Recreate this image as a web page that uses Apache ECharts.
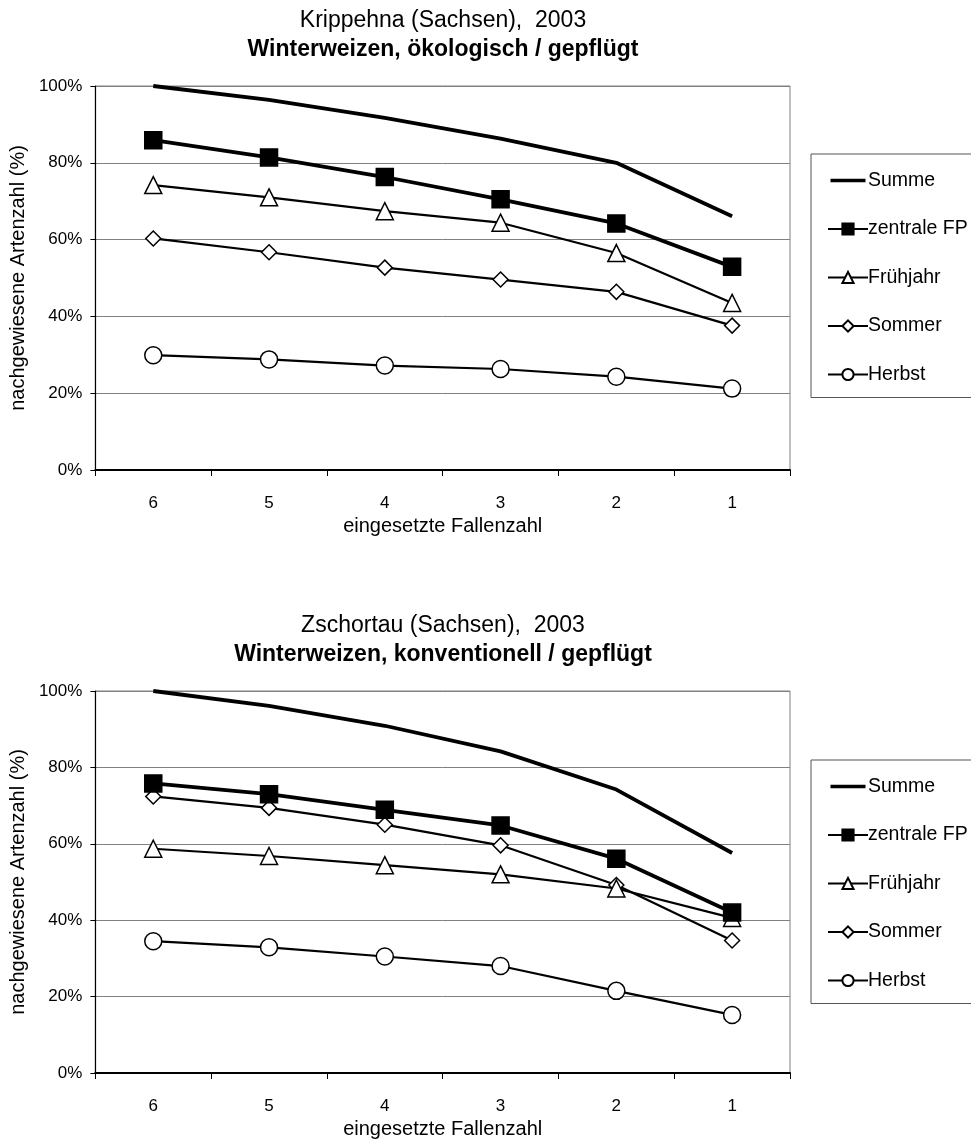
<!DOCTYPE html>
<html><head><meta charset="utf-8">
<script src="https://cdn.jsdelivr.net/npm/echarts@6/dist/echarts.min.js"></script>
<style>html,body{margin:0;padding:0;background:#fff}#c{width:971px;height:1140px}</style>
</head><body><div id="c"></div>
<script>
const categories = ['6','5','4','3','2','1'];
const seriesNames = ['Summe','zentrale FP','Frühjahr','Sommer','Herbst'];
const yTicks = [0,20,40,60,80,100];
// Chart 1: Krippehna
const k_summe    = [100, 96.4, 91.7, 86.3, 80.0, 66.1];
const k_zentrale = [85.9, 81.4, 76.3, 70.5, 64.2, 52.9];
const k_fruehjahr= [74.2, 71.0, 67.4, 64.4, 56.5, 43.5];
const k_sommer   = [60.3, 56.7, 52.7, 49.6, 46.4, 37.6];
const k_herbst   = [29.9, 28.8, 27.2, 26.3, 24.3, 21.2];
// Chart 2: Zschortau
const z_summe    = [100, 96.1, 90.9, 84.2, 74.2, 57.6];
const z_zentrale = [75.8, 73.0, 68.9, 64.8, 56.1, 42.0];
const z_fruehjahr= [58.7, 56.8, 54.4, 52.0, 48.3, 40.6];
const z_sommer   = [72.4, 69.4, 65.0, 59.6, 49.2, 34.7];
const z_herbst   = [34.5, 32.9, 30.5, 28.0, 21.5, 15.2];

const FONT = '"Liberation Sans", Arial, sans-serif';
const styles = [
  {symbol:'none', size:0, lw:3.8, fill:'#000', bw:0},
  {symbol:'rect', size:17, lw:3.8, fill:'#000', bw:1.5},
  {symbol:'triangle', size:17, lw:2.2, fill:'#fff', bw:1.5},
  {symbol:'diamond', size:15, lw:2.2, fill:'#fff', bw:1.5},
  {symbol:'circle', size:17, lw:2.2, fill:'#fff', bw:1.5}
];
function mkSeries(idx, arrs){
  return arrs.map((d,i)=>({
    name: seriesNames[i], type:'line', xAxisIndex:idx, yAxisIndex:idx,
    data:d, symbol: styles[i].symbol, symbolSize: styles[i].size,
    showSymbol: styles[i].symbol !== 'none',
    lineStyle:{color:'#000', width:styles[i].lw},
    itemStyle:{color:styles[i].fill, borderColor:'#000', borderWidth:styles[i].bw},
    emphasis:{disabled:true}, animation:false, z: 10-i
  }));
}
const grids = [
  {left:95, top:86, width:695, height:384, show:true, borderColor:'#808080', borderWidth:1},
  {left:95, top:691, width:695, height:385, show:true, borderColor:'#808080', borderWidth:1}
];
function xAx(i){return {type:'category', gridIndex:i, data:categories, boundaryGap:true,
  name:'eingesetzte Fallenzahl', nameLocation:'middle', nameGap:46,
  nameTextStyle:{fontFamily:FONT, fontSize:20, color:'#000'},
  axisLine:{lineStyle:{color:'#000', width:2}},
  axisTick:{show:true, inside:false, length:6, lineStyle:{color:'#000', width:1}},
  axisLabel:{fontFamily:FONT, fontSize:17, color:'#000', margin:25}};}
function yAx(i){return {type:'value', gridIndex:i, min:yTicks[0], max:yTicks[yTicks.length-1], interval:20,
  name:'nachgewiesene Artenzahl (%)', nameLocation:'middle', nameGap:56,
  nameTextStyle:{fontFamily:FONT, fontSize:20, color:'#000'},
  axisLine:{show:true, lineStyle:{color:'#000', width:1.2}},
  axisTick:{show:true, length:5, lineStyle:{color:'#000'}},
  axisLabel:{fontFamily:FONT, fontSize:17, color:'#000', margin:13, formatter:'{value}%'},
  splitLine:{show:true, lineStyle:{color:'#808080', width:1}}};}
const summeIcon = 'path://M0,0L0.01,0M0,6H40V10H0ZM0,16L0.01,16';
function legend(top){return {
  data:[{name:'Summe', icon:summeIcon}, 'zentrale FP','Frühjahr','Sommer','Herbst'],
  orient:'vertical', left:811, top:top,
  itemWidth:40, itemHeight:14, itemGap:28.5, padding:[16.5,40,13,16],
  borderColor:'#555', borderWidth:1, selectedMode:false,
  textStyle:{fontFamily:FONT, fontSize:19.5, color:'#000', padding:[0,0,0,-5]}};}
const chart = echarts.init(document.getElementById('c'), null, {renderer:'canvas'});
const tStyle = (b)=>({fontFamily:FONT, fontSize:23, fontWeight:b?'bold':'normal', color:'#000'});
chart.setOption({
  backgroundColor:'#fff', animation:false,
  title:[
    {text:'Krippehna (Sachsen),  2003', left:443, top:9, padding:0, textAlign:'center', textStyle:tStyle(false)},
    {text:'Winterweizen, ökologisch / gepflügt', left:443, top:38, padding:0, textAlign:'center', textStyle:tStyle(true)},
    {text:'Zschortau (Sachsen),  2003', left:443, top:614, padding:0, textAlign:'center', textStyle:tStyle(false)},
    {text:'Winterweizen, konventionell / gepflügt', left:443, top:643, padding:0, textAlign:'center', textStyle:tStyle(true)}
  ],
  legend:[legend(154), legend(760)],
  grid:grids,
  xAxis:[xAx(0), xAx(1)],
  yAxis:[yAx(0), yAx(1)],
  series:[...mkSeries(0,[k_summe,k_zentrale,k_fruehjahr,k_sommer,k_herbst]),
          ...mkSeries(1,[z_summe,z_zentrale,z_fruehjahr,z_sommer,z_herbst])]
});
</script></body></html>
